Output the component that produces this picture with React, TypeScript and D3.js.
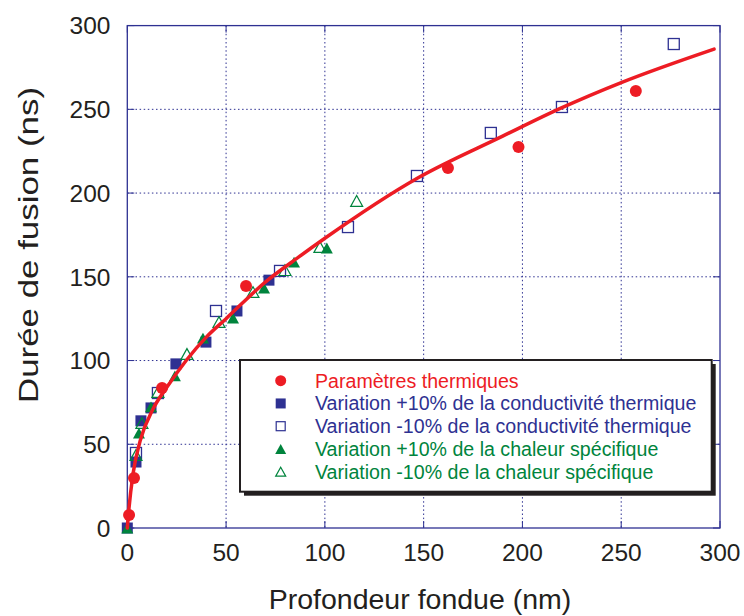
import React from "react";
import * as d3 from "d3";

// ---- data ----
const xTicks = [0, 50, 100, 150, 200, 250, 300];
const yTicks = [0, 50, 100, 150, 200, 250, 300];

const paramX = [0.9, 3.4, 17.6, 60.1, 162.3, 198, 257.4];
const paramY = [7.8, 29.9, 83.6, 144.5, 215, 227.5, 261];

const condPlusX = [0, 4.4, 6.9, 12, 24.6, 39.8, 55.5, 71.7];
const condPlusY = [0, 39.4, 64, 71.7, 98, 111, 129.6, 148];

const condMinusX = [4.4, 15.5, 44.9, 77.3, 111.7, 146.6, 184, 220, 276.6];
const condMinusY = [44.8, 80.6, 129.6, 153.5, 179.7, 210.2, 235.9, 251.4, 289];

const chalPlusX = [0, 5.9, 12, 24.1, 38.3, 53.5, 69.2, 84.4, 101];
const chalPlusY = [0, 56.7, 72.3, 90.8, 113.4, 125.4, 143.3, 158.8, 167.2];

const chalMinusX = [4.4, 7.4, 15.5, 30.2, 46.4, 63.6, 79.8, 97.5, 116.1];
const chalMinusY = [43.6, 62.7, 81.2, 103.9, 123, 140.9, 154, 167.8, 195.3];

// fitted curve, points
const curveX = [0, 0.7, 3, 6.5, 13, 20, 40, 50, 70, 87, 100, 147, 190, 220, 250, 297];
const curveY = [0, 10, 33, 52, 71, 84, 114, 125, 147, 162, 173, 209, 234, 251, 266, 286];

const legendLabels = [
  "Paramètres thermiques",
  "Variation +10% de la conductivité thermique",
  "Variation -10% de la conductivité thermique",
  "Variation +10% de la chaleur spécifique",
  "Variation -10% de la chaleur spécifique",
];

const RED = "#ed1c24";
const BLUE = "#2e3192";
const GREEN = "#00843d";
const TEXT = "#231f20";

const W = 744;
const H = 616;
const L = 127.3, R = 720, T = 25.6, B = 528;

const zip = (a: number[], b: number[]) => a.map((v, i) => [v, b[i]] as [number, number]);

function tri(cx: number, cy: number, s: number) {
  const h = s * 0.9;
  return `M${cx},${cy - h / 2}L${cx + s / 2},${cy + h / 2}L${cx - s / 2},${cy + h / 2}Z`;
}

export default function App() {
  const x = d3.scaleLinear().domain([0, 300]).range([L, R]);
  const y = d3.scaleLinear().domain([0, 300]).range([B, T]);
  const line = d3
    .line<[number, number]>()
    .x((d) => x(d[0]))
    .y((d) => y(d[1]))
    .curve(d3.curveMonotoneX);

  const font = "'Liberation Sans', Arial, Helvetica, sans-serif";
  const sq = 11;
  const tsz = 12;

  const legX = 240, legY = 360, legW = 471.7, legH = 131.7;
  const rowY = (i: number) => 380.7 + i * 22.75;

  const legendMarker = (i: number, cx: number, cy: number) => {
    switch (i) {
      case 0:
        return <circle cx={cx} cy={cy} r={5.5} fill={RED} />;
      case 1:
        return <rect x={cx - 5} y={cy - 5} width={10} height={10} fill={BLUE} />;
      case 2:
        return <rect x={cx - 4.5} y={cy - 4.5} width={9} height={9} fill="none" stroke={BLUE} strokeWidth={1.2} />;
      case 3:
        return <path d={tri(cx, cy, 11)} fill={GREEN} />;
      default:
        return <path d={tri(cx, cy, 10)} fill="none" stroke={GREEN} strokeWidth={1.2} />;
    }
  };
  const legendColors = [RED, BLUE, BLUE, GREEN, GREEN];

  return (
    <svg
      width={W}
      height={H}
      style={{ position: "absolute", left: 0, top: 0, background: "#fff" }}
      fontFamily={font}
    >
      <rect x={0} y={0} width={W} height={H} fill="#fff" />
      {/* grid */}
      {xTicks.slice(1, -1).map((t) => (
        <line key={"gx" + t} x1={x(t)} x2={x(t)} y1={T} y2={B} stroke={BLUE} strokeWidth={1} strokeDasharray="1.5,2.6" />
      ))}
      {yTicks.slice(1, -1).map((t) => (
        <line key={"gy" + t} x1={L} x2={R} y1={y(t)} y2={y(t)} stroke={BLUE} strokeWidth={1} strokeDasharray="1.5,2.6" />
      ))}
      {/* ticks inward */}
      {xTicks.map((t) => (
        <g key={"tx" + t}>
          <line x1={x(t)} x2={x(t)} y1={B} y2={B - 7} stroke={BLUE} strokeWidth={1} />
          <line x1={x(t)} x2={x(t)} y1={T} y2={T + 7} stroke={BLUE} strokeWidth={1} />
        </g>
      ))}
      {yTicks.map((t) => (
        <g key={"ty" + t}>
          <line x1={L} x2={L + 7} y1={y(t)} y2={y(t)} stroke={BLUE} strokeWidth={1} />
          <line x1={R} x2={R - 7} y1={y(t)} y2={y(t)} stroke={BLUE} strokeWidth={1} />
        </g>
      ))}
      {/* frame */}
      <rect x={L} y={T} width={R - L} height={B - T} fill="none" stroke={BLUE} strokeWidth={1.3} />

      {/* tick labels */}
      {xTicks.map((t) => (
        <text key={"lx" + t} x={x(t)} y={561} textAnchor="middle" fontSize={24.5} fill={TEXT}>
          {t}
        </text>
      ))}
      {yTicks.map((t) => (
        <text key={"ly" + t} x={110.5} y={y(t) + 8.8} textAnchor="end" fontSize={24.5} fill={TEXT}>
          {t}
        </text>
      ))}
      {/* axis titles */}
      <text x={420} y={609.3} textAnchor="middle" fontSize={28.5} fill={TEXT}>
        Profondeur fondue (nm)
      </text>
      <text
        transform={`translate(37.5,245) rotate(-90)`}
        textAnchor="middle"
        fontSize={28.5}
        fill={TEXT}
        textLength={316}
        lengthAdjust="spacingAndGlyphs"
      >
        Durée de fusion (ns)
      </text>

      {/* markers (under the line) */}
      {zip(condPlusX, condPlusY).map(([a, b], i) => (
        <rect key={"cp" + i} x={x(a) - sq / 2} y={y(b) - sq / 2} width={sq} height={sq} fill={BLUE} />
      ))}
      {zip(condMinusX, condMinusY).map(([a, b], i) => (
        <rect key={"cm" + i} x={x(a) - 5.5} y={y(b) - 5.5} width={11} height={11} fill="none" stroke={BLUE} strokeWidth={1.3} />
      ))}
      {zip(chalPlusX, chalPlusY).map(([a, b], i) => (
        <path key={"hp" + i} d={tri(x(a), y(b), tsz)} fill={GREEN} />
      ))}
      {zip(chalMinusX, chalMinusY).map(([a, b], i) => (
        <path key={"hm" + i} d={tri(x(a), y(b), tsz)} fill="none" stroke={GREEN} strokeWidth={1.2} />
      ))}

      {/* fitted curve */}
      <path d={line(zip(curveX, curveY)) || ""} fill="none" stroke={RED} strokeWidth={3.5} strokeLinecap="round" />

      {zip(paramX, paramY).map(([a, b], i) => (
        <circle key={"p" + i} cx={x(a)} cy={y(b)} r={6} fill={RED} />
      ))}

      {/* legend */}
      <rect x={legX + 4} y={legY + 4} width={legW} height={legH} fill="#231f20" />
      <rect x={legX} y={legY} width={legW} height={legH} fill="#fff" stroke="#231f20" strokeWidth={2} />
      {legendLabels.map((lab, i) => (
        <g key={"lg" + i}>
          {legendMarker(i, 280.7, rowY(i))}
          <text x={315} y={rowY(i) + 6.8} fontSize={19.6} fill={legendColors[i]}>
            {lab}
          </text>
        </g>
      ))}
    </svg>
  );
}
